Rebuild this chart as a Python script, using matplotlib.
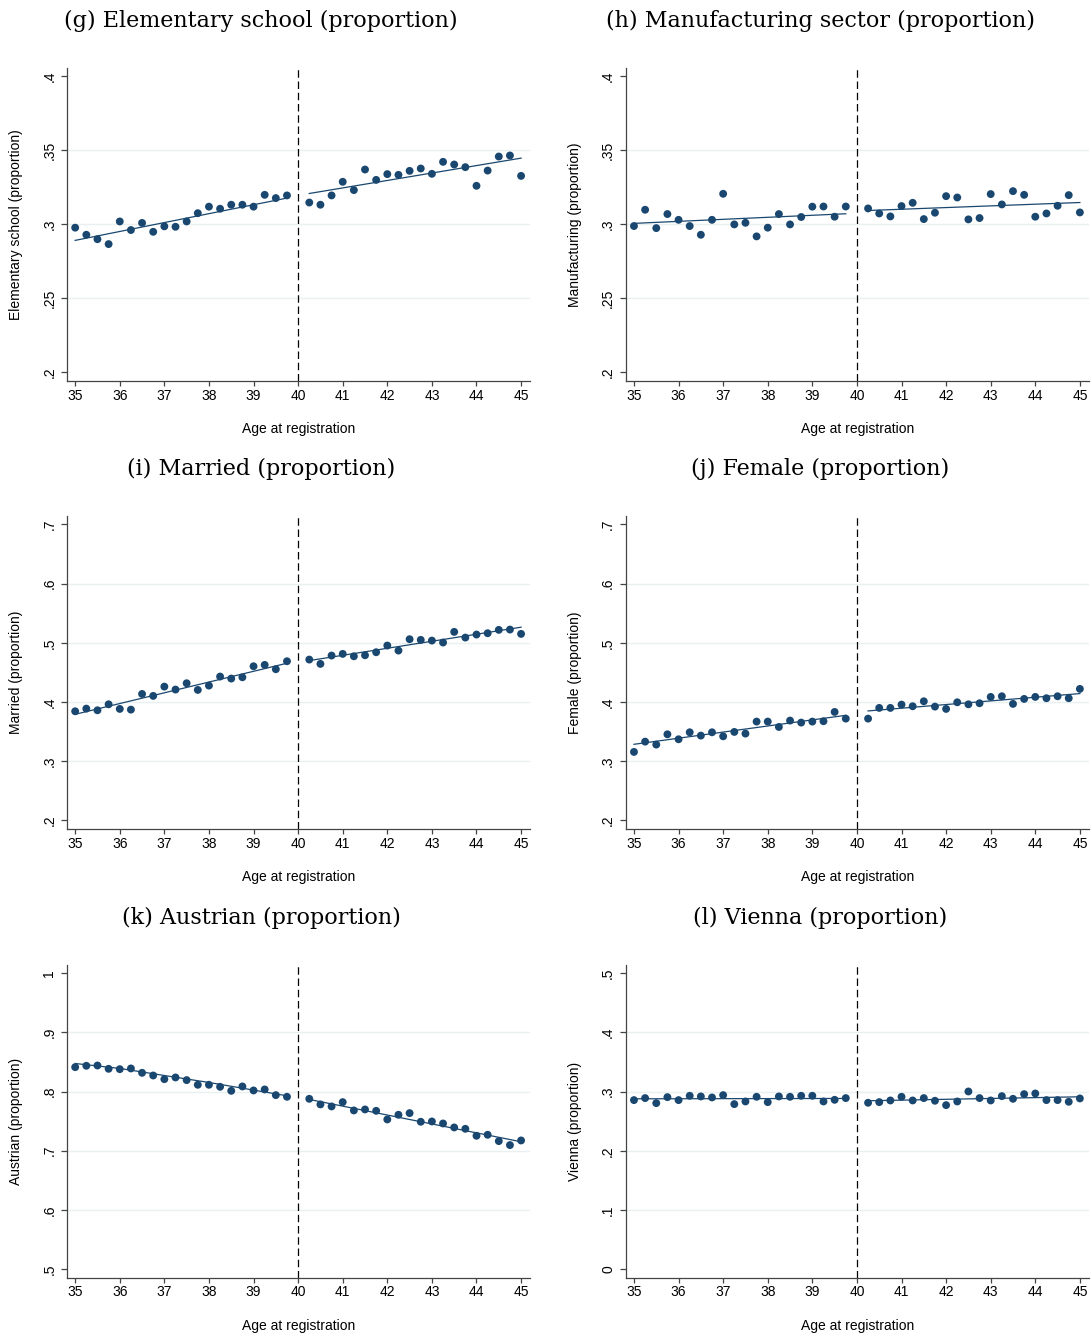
import numpy as np
import matplotlib
matplotlib.use("Agg")
import matplotlib.pyplot as plt

# bin midpoints (age at registration, quarter years)
age_left = [35, 35.25, 35.5, 35.75, 36, 36.25, 36.5, 36.75, 37, 37.25,
            37.5, 37.75, 38, 38.25, 38.5, 38.75, 39, 39.25, 39.5, 39.75]
age_right = [40.25, 40.5, 40.75, 41, 41.25, 41.5, 41.75, 42, 42.25, 42.5,
             42.75, 43, 43.25, 43.5, 43.75, 44, 44.25, 44.5, 44.75, 45]

# (g) elementary school
elem_left = [0.2978, 0.293, 0.290, 0.2867, 0.302, 0.2962, 0.301, 0.295, 0.2987, 0.2984,
             0.302, 0.3076, 0.312, 0.3106, 0.3133, 0.3133, 0.312, 0.320, 0.3178, 0.3196]
elem_right = [0.3148, 0.3133, 0.3196, 0.3288, 0.3232, 0.3371, 0.3301, 0.334, 0.3335, 0.3362,
              0.3378, 0.3342, 0.3423, 0.3405, 0.3387, 0.3261, 0.3364, 0.3459, 0.3466, 0.3328]
elem_fit = [[35, 39.75], [0.2892, 0.3178], [40.25, 45], [0.3209, 0.3448]]

# (h) manufacturing
manu_left = [0.2989, 0.3099, 0.2975, 0.307, 0.3031, 0.2989, 0.293, 0.3031, 0.3207, 0.300,
             0.3011, 0.2919, 0.2978, 0.307, 0.300, 0.305, 0.312, 0.3121, 0.3052, 0.3121]
manu_right = [0.3108, 0.3074, 0.3054, 0.3124, 0.3146, 0.3036, 0.3079, 0.3191, 0.3182, 0.3034,
              0.3043, 0.3205, 0.3135, 0.3225, 0.320, 0.3052, 0.3074, 0.3126, 0.3198, 0.3081]
manu_fit = [[35, 39.75], [0.3007, 0.3072], [40.25, 45], [0.3094, 0.3148]]

# (i) married
marr_left = [0.3843, 0.3888, 0.386, 0.3961, 0.3883, 0.3871, 0.4136, 0.4103, 0.426, 0.421,
             0.4317, 0.4204, 0.4277, 0.443, 0.4396, 0.4418, 0.4604, 0.4627, 0.4554, 0.4689]
marr_right = [0.4717, 0.4644, 0.4785, 0.4813, 0.4773, 0.479, 0.4841, 0.4954, 0.4869, 0.5061,
              0.505, 0.5038, 0.5005, 0.5185, 0.5089, 0.514, 0.5162, 0.5219, 0.5224, 0.5151]
marr_fit = [[35, 39.75], [0.3792, 0.4655], [40.25, 45], [0.470, 0.5264]]

# (j) female
fem_left = [0.3156, 0.333, 0.328, 0.3454, 0.337, 0.3488, 0.3432, 0.3488, 0.342, 0.3494,
            0.3466, 0.3669, 0.3669, 0.3578, 0.3686, 0.3652, 0.3669, 0.3675, 0.3832, 0.3719]
fem_right = [0.3719, 0.390, 0.390, 0.3956, 0.3928, 0.4012, 0.3922, 0.3883, 0.3995, 0.3961,
             0.3979, 0.4086, 0.4097, 0.3968, 0.4052, 0.4086, 0.4064, 0.4097, 0.4064, 0.4221]
fem_fit = [[35, 39.75], [0.3285, 0.3775], [40.25, 45], [0.3849, 0.4142]]

# (k) austrian
aut_left = [0.8412, 0.8435, 0.844, 0.8384, 0.8378, 0.839, 0.8316, 0.8271, 0.8209, 0.8238,
            0.8193, 0.8114, 0.8114, 0.808, 0.8012, 0.8086, 0.8018, 0.8035, 0.7939, 0.7911]
aut_right = [0.7877, 0.7782, 0.7748, 0.7821, 0.768, 0.7697, 0.7674, 0.7528, 0.7607, 0.7635,
             0.7489, 0.7494, 0.746, 0.7393, 0.737, 0.7252, 0.7269, 0.7162, 0.7095, 0.7173]
aut_fit = [[35, 36, 37, 38, 39, 39.75], [0.8474, 0.839, 0.8271, 0.8153, 0.8024, 0.7928],
           [40.25, 45], [0.7866, 0.7151]]

# (l) vienna
vie_left = [0.2855, 0.2889, 0.2804, 0.2905, 0.2855, 0.2928, 0.2917, 0.290, 0.2939, 0.2787,
            0.2832, 0.2911, 0.2821, 0.2917, 0.2911, 0.2928, 0.2928, 0.2832, 0.286, 0.2889]
vie_right = [0.281, 0.2821, 0.2849, 0.2911, 0.2849, 0.2889, 0.2844, 0.277, 0.2832, 0.3001,
             0.2889, 0.2849, 0.2922, 0.2877, 0.2956, 0.2967, 0.2855, 0.2855, 0.2827, 0.2883]
vie_fit = [[35, 39.75], [0.2877, 0.2883], [40.25, 45], [0.2844, 0.2911]]

titles = ["(g) Elementary school (proportion)", "(h) Manufacturing sector (proportion)",
          "(i) Married (proportion)", "(j) Female (proportion)",
          "(k) Austrian (proportion)", "(l) Vienna (proportion)"]
ylabels = ["Elementary school (proportion)", "Manufacturing (proportion)",
           "Married (proportion)", "Female (proportion)",
           "Austrian (proportion)", "Vienna (proportion)"]
yticks = [[0.2, 0.25, 0.3, 0.35, 0.4], [0.2, 0.25, 0.3, 0.35, 0.4],
          [0.2, 0.3, 0.4, 0.5, 0.6, 0.7], [0.2, 0.3, 0.4, 0.5, 0.6, 0.7],
          [0.5, 0.6, 0.7, 0.8, 0.9, 1.0], [0.0, 0.1, 0.2, 0.3, 0.4, 0.5]]
ytlabels = [[".2", ".25", ".3", ".35", ".4"], [".2", ".25", ".3", ".35", ".4"],
            [".2", ".3", ".4", ".5", ".6", ".7"], [".2", ".3", ".4", ".5", ".6", ".7"],
            [".5", ".6", ".7", ".8", ".9", "1"], ["0", ".1", ".2", ".3", ".4", ".5"]]
xticks = [35, 36, 37, 38, 39, 40, 41, 42, 43, 44, 45]

series = [(elem_left, elem_right, elem_fit), (manu_left, manu_right, manu_fit),
          (marr_left, marr_right, marr_fit), (fem_left, fem_right, fem_fit),
          (aut_left, aut_right, aut_fit), (vie_left, vie_right, vie_fit)]

navy = "#1a476f"
axcol = "#444444"
plt.rcParams["font.family"] = "Liberation Sans"

W, H = 1091, 1334
fig = plt.figure(figsize=(W / 100, H / 100), dpi=100)

col_left = [66.7, 625.5]
ax_w = 463.3
row_bottom = [381, 829, 1277.7]
ax_h = 313
title_x = [261, 820]
title_y = [21, 469, 918]

for i in range(6):
    r, c = divmod(i, 2)
    ax = fig.add_axes([col_left[c] / W, 1 - row_bottom[r] / H, ax_w / W, ax_h / H])
    yl, yr, fit = series[i]
    yt = yticks[i]
    span = yt[-1] - yt[0]
    ax.set_ylim(yt[0] - 0.0293 * span, yt[-1] + 0.0287 * span)
    ax.set_xlim(34.81, 45.2)
    for t in yt[1:-1]:
        ax.axhline(t, color="#e8f0f2", lw=1.0, zorder=0)
    ax.axvline(40, color="black", lw=0.9, ls=(0, (6, 3)), zorder=1)
    ax.scatter(age_left, yl, s=32, color=navy, edgecolors="none", zorder=3)
    ax.scatter(age_right, yr, s=32, color=navy, edgecolors="none", zorder=3)
    ax.plot(fit[0], fit[1], color=navy, lw=0.9, zorder=2)
    ax.plot(fit[2], fit[3], color=navy, lw=0.9, zorder=2)

    ax.set_xticks(xticks)
    ax.set_xticklabels([str(x) for x in xticks])
    ax.set_yticks(yt)
    ax.set_yticklabels(ytlabels[i], rotation=90, va="center")
    ax.tick_params(axis="x", length=3.5, width=0.9, color=axcol, labelsize=10, pad=2)
    ax.tick_params(axis="y", length=4.5, width=0.9, color=axcol, labelsize=10, pad=3)
    for s in ["top", "right"]:
        ax.spines[s].set_visible(False)
    for s in ["left", "bottom"]:
        ax.spines[s].set_color(axcol)
        ax.spines[s].set_linewidth(0.9)
    ax.set_xlabel("Age at registration", fontsize=10, labelpad=14)
    ax.set_ylabel(ylabels[i], fontsize=10, labelpad=14)

    fig.text(title_x[c] / W, 1 - title_y[r] / H, titles[i], ha="center", va="center",
             fontsize=16, family="DejaVu Serif")

fig.savefig("out.png", dpi=100)
